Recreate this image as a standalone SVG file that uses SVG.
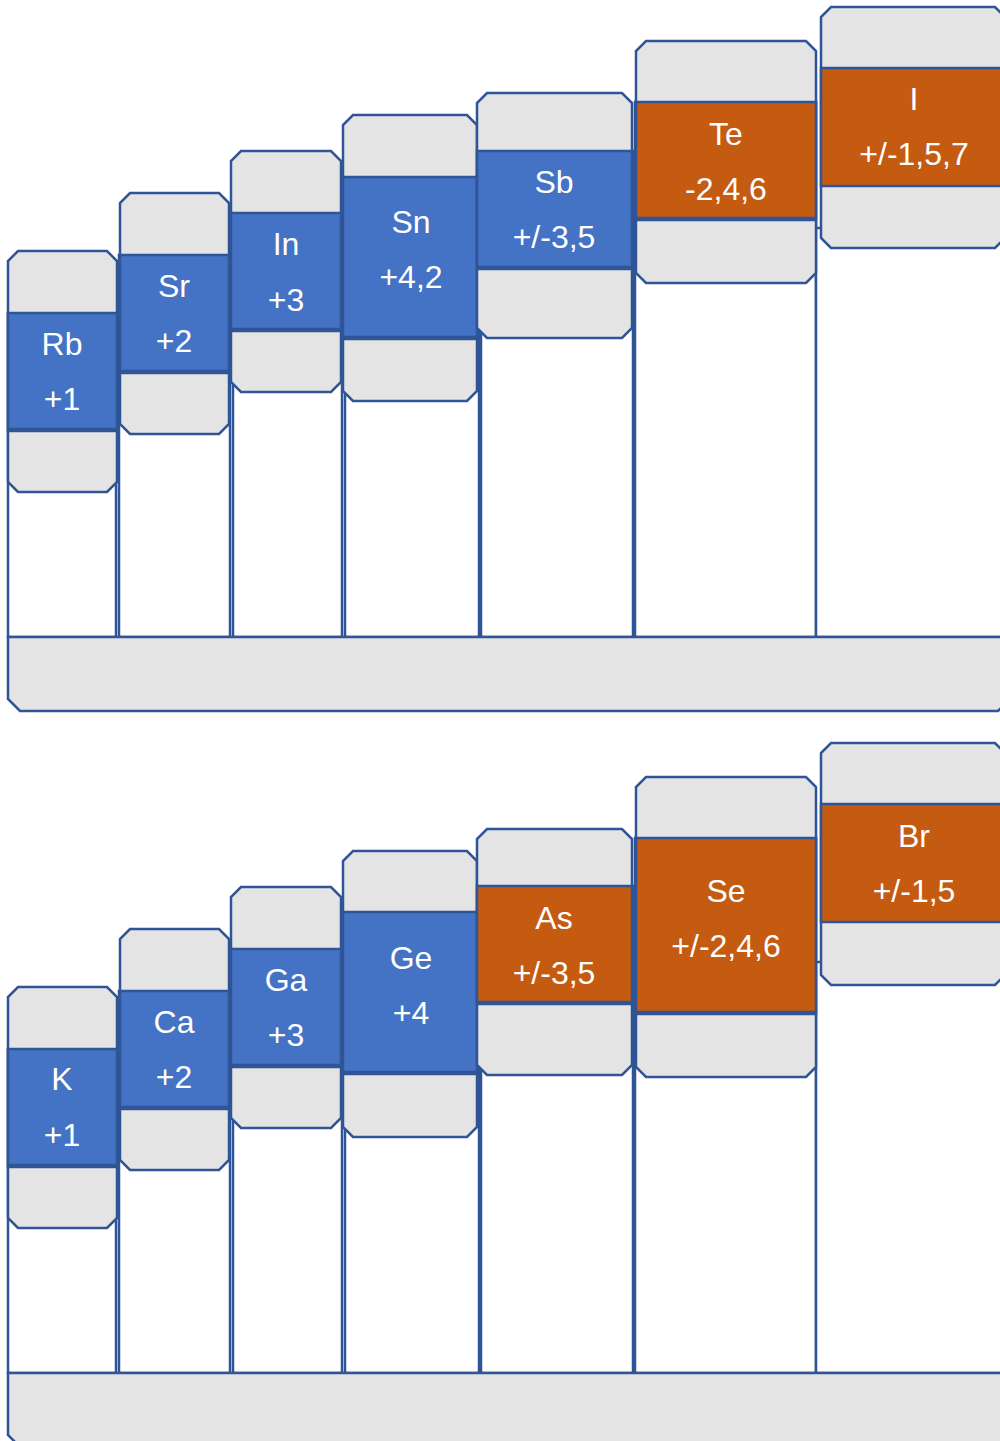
<svg xmlns="http://www.w3.org/2000/svg" width="1000" height="1441" viewBox="0 0 1000 1441">
<style>
.col{fill:#FFFFFF;stroke:#2F5597;stroke-width:2.5}
.bar{fill:#E4E4E4;stroke:#2F5597;stroke-width:2.5}
.box{fill:#E4E4E4;stroke:#2F5597;stroke-width:2.5}
.band{stroke:#2F5597;stroke-width:2.5}
.blue{fill:#4472C4}
.orange{fill:#C55A11}
.edge{stroke:#2F5597;stroke-width:4.5}
.t{font-family:"Liberation Sans",Arial,sans-serif;font-size:32px;fill:#FFFFFF;text-anchor:middle}
</style>
<rect width="1000" height="1441" fill="#FFFFFF"/>

<!-- Top panel -->
<g id="top-columns">
<rect class="col" x="8" y="313" width="108" height="324"/>
<rect class="col" x="119" y="255" width="111" height="382"/>
<rect class="col" x="233" y="213" width="109" height="424"/>
<rect class="col" x="345" y="177" width="134" height="460"/>
<rect class="col" x="481" y="151" width="152" height="486"/>
<rect class="col" x="635" y="102" width="181" height="535"/>
<rect class="col" x="816" y="228" width="200" height="409"/>
</g>
<g id="top-bar">
<path class="bar" d="M8,637 H1010 V699 L998,711 H20 L8,699 Z"/>
</g>
<g id="Rb">
<path class="box" d="M18,251 H107 L117,261 V482 L107,492 H18 L8,482 V261 Z"/>
<rect class="band blue" x="8" y="313" width="109" height="117"/>
<line class="edge" x1="8" y1="430" x2="117" y2="430"/>
<text class="t" x="62" y="355">Rb</text>
<text class="t" x="62" y="410">+1</text>
</g>
<g id="Sr">
<path class="box" d="M130,193 H219 L229,203 V424 L219,434 H130 L120,424 V203 Z"/>
<rect class="band blue" x="120" y="255" width="109" height="117"/>
<line class="edge" x1="120" y1="372" x2="229" y2="372"/>
<text class="t" x="174" y="297">Sr</text>
<text class="t" x="174" y="352">+2</text>
</g>
<g id="In">
<path class="box" d="M241,151 H331 L341,161 V382 L331,392 H241 L231,382 V161 Z"/>
<rect class="band blue" x="231" y="213" width="110" height="117"/>
<line class="edge" x1="231" y1="330" x2="341" y2="330"/>
<text class="t" x="286" y="255">In</text>
<text class="t" x="286" y="311">+3</text>
</g>
<g id="Sn">
<path class="box" d="M353,115 H467 L477,125 V391 L467,401 H353 L343,391 V125 Z"/>
<rect class="band blue" x="343" y="177" width="134" height="161"/>
<line class="edge" x1="343" y1="338" x2="477" y2="338"/>
<text class="t" x="411" y="233">Sn</text>
<text class="t" x="411" y="288">+4,2</text>
</g>
<g id="Sb">
<path class="box" d="M487,93 H622 L632,103 V328 L622,338 H487 L477,328 V103 Z"/>
<rect class="band blue" x="477" y="151" width="155" height="117"/>
<line class="edge" x1="477" y1="268" x2="632" y2="268"/>
<text class="t" x="554" y="193">Sb</text>
<text class="t" x="554" y="248">+/-3,5</text>
</g>
<g id="Te">
<path class="box" d="M646,41 H806 L816,51 V273 L806,283 H646 L636,273 V51 Z"/>
<rect class="band orange" x="636" y="102" width="180" height="117"/>
<line class="edge" x1="636" y1="219" x2="816" y2="219"/>
<text class="t" x="726" y="145">Te</text>
<text class="t" x="726" y="200">-2,4,6</text>
</g>
<g id="I">
<path class="box" d="M831,7 H995 L1005,17 V238 L995,248 H831 L821,238 V17 Z"/>
<rect class="band orange" x="821" y="68" width="184" height="118"/>
<text class="t" x="914" y="110">I</text>
<text class="t" x="914" y="165">+/-1,5,7</text>
</g>

<!-- Bottom panel -->
<g id="bottom-columns">
<rect class="col" x="8" y="1049" width="108" height="324"/>
<rect class="col" x="119" y="991" width="111" height="382"/>
<rect class="col" x="233" y="949" width="109" height="424"/>
<rect class="col" x="345" y="912" width="134" height="461"/>
<rect class="col" x="481" y="886" width="152" height="487"/>
<rect class="col" x="635" y="838" width="181" height="535"/>
<rect class="col" x="816" y="962" width="200" height="411"/>
</g>
<g id="bottom-bar">
<path class="bar" d="M8,1373 H1010 V1435 L998,1447 H20 L8,1435 Z"/>
</g>
<g id="K">
<path class="box" d="M18,987 H107 L117,997 V1218 L107,1228 H18 L8,1218 V997 Z"/>
<rect class="band blue" x="8" y="1049" width="109" height="117"/>
<line class="edge" x1="8" y1="1166" x2="117" y2="1166"/>
<text class="t" x="62" y="1090">K</text>
<text class="t" x="62" y="1146">+1</text>
</g>
<g id="Ca">
<path class="box" d="M130,929 H219 L229,939 V1160 L219,1170 H130 L120,1160 V939 Z"/>
<rect class="band blue" x="120" y="991" width="109" height="117"/>
<line class="edge" x1="120" y1="1108" x2="229" y2="1108"/>
<text class="t" x="174" y="1033">Ca</text>
<text class="t" x="174" y="1088">+2</text>
</g>
<g id="Ga">
<path class="box" d="M241,887 H331 L341,897 V1118 L331,1128 H241 L231,1118 V897 Z"/>
<rect class="band blue" x="231" y="949" width="110" height="117"/>
<line class="edge" x1="231" y1="1066" x2="341" y2="1066"/>
<text class="t" x="286" y="991">Ga</text>
<text class="t" x="286" y="1046">+3</text>
</g>
<g id="Ge">
<path class="box" d="M353,851 H467 L477,861 V1127 L467,1137 H353 L343,1127 V861 Z"/>
<rect class="band blue" x="343" y="912" width="134" height="161"/>
<line class="edge" x1="343" y1="1073" x2="477" y2="1073"/>
<text class="t" x="411" y="969">Ge</text>
<text class="t" x="411" y="1024">+4</text>
</g>
<g id="As">
<path class="box" d="M487,829 H622 L632,839 V1065 L622,1075 H487 L477,1065 V839 Z"/>
<rect class="band orange" x="477" y="886" width="155" height="117"/>
<line class="edge" x1="477" y1="1003" x2="632" y2="1003"/>
<text class="t" x="554" y="929">As</text>
<text class="t" x="554" y="984">+/-3,5</text>
</g>
<g id="Se">
<path class="box" d="M646,777 H806 L816,787 V1067 L806,1077 H646 L636,1067 V787 Z"/>
<rect class="band orange" x="636" y="838" width="180" height="175"/>
<line class="edge" x1="636" y1="1013" x2="816" y2="1013"/>
<text class="t" x="726" y="902">Se</text>
<text class="t" x="726" y="957">+/-2,4,6</text>
</g>
<g id="Br">
<path class="box" d="M831,743 H995 L1005,753 V975 L995,985 H831 L821,975 V753 Z"/>
<rect class="band orange" x="821" y="804" width="184" height="118"/>
<text class="t" x="914" y="847">Br</text>
<text class="t" x="914" y="902">+/-1,5</text>
</g>
</svg>
